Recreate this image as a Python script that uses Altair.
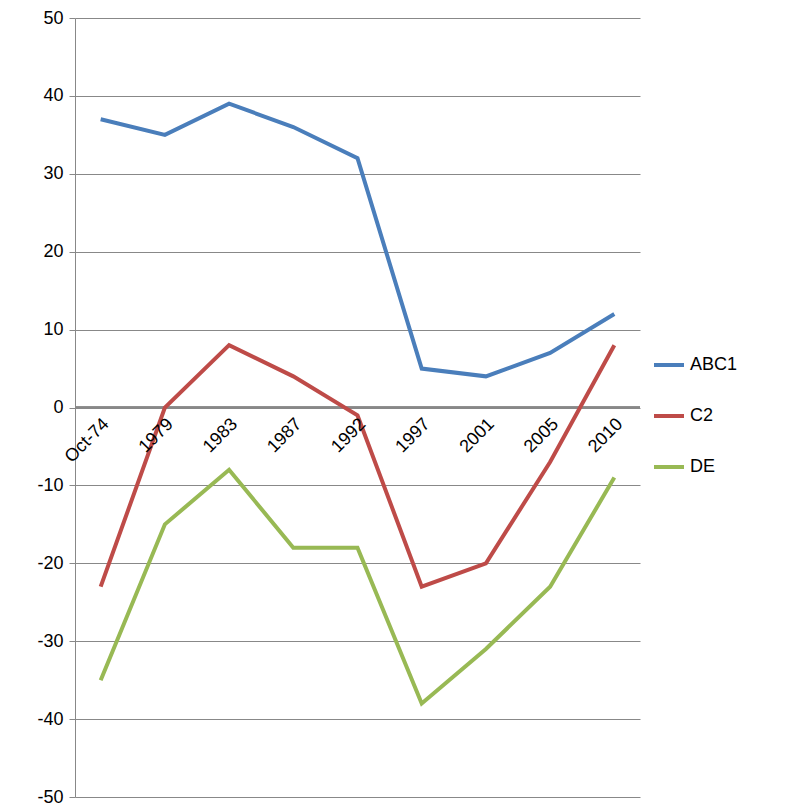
import altair as alt
import pandas as pd

years = ['Oct-74', '1979', '1983', '1987', '1992', '1997', '2001', '2005', '2010']
abc1 = [37, 35, 39, 36, 32, 5, 4, 7, 12]
c2 = [-23, 0, 8, 4, -1, -23, -20, -7, 8]
de = [-35, -15, -8, -18, -18, -38, -31, -23, -9]
series = ['ABC1', 'C2', 'DE']
colors = ['#4A7EBB', '#BE4B48', '#98B954']

rows = []
for name, vals in zip(series, [abc1, c2, de]):
    for y, v in zip(years, vals):
        rows.append({'year': y, 'value': v, 'series': name})
df = pd.DataFrame(rows)
labels = pd.DataFrame({'year': years, 'value': [0] * len(years)})

xenc = alt.X('year:O', sort=years, scale=alt.Scale(type='point', padding=0.4), axis=None)
yscale = alt.Scale(domain=[-50, 50])
yaxis = alt.Axis(values=list(range(-50, 51, 10)), labelFontSize=18, labelFont='Liberation Sans',
                 labelColor='black', grid=True, gridColor='#888888', domainColor='#888888',
                 tickColor='#888888', tickSize=6, labelPadding=6,
                 labelExpr="replace(datum.label, '\u2212', '-')")

lines = alt.Chart(df).mark_line(strokeWidth=4).encode(
    x=xenc,
    y=alt.Y('value:Q', scale=yscale, title=None, axis=yaxis),
    color=alt.Color('series:N', sort=series, scale=alt.Scale(domain=series, range=colors),
                    legend=alt.Legend(title=None, orient='none', legendX=577, legendY=330,
                                      symbolType='stroke', symbolStrokeWidth=4, symbolSize=900,
                                      labelFontSize=18, labelFont='Liberation Sans', rowPadding=25)),
)

zero = alt.Chart(labels).mark_rule(color='#888888', strokeWidth=1.5).encode(y=alt.datum(0))

text = alt.Chart(labels).mark_text(angle=315, align='right', baseline='middle', fontSize=18,
                                   font='Liberation Sans', dx=-6, dy=14).encode(
    x=xenc, y=alt.Y('value:Q', scale=yscale, axis=yaxis, title=None), text='year:N')

chart = alt.layer(zero, lines, text).properties(
    width=565, height=779, autosize=alt.AutoSizeParams(type='none'),
    padding={'left': 67, 'top': 10, 'right': 150, 'bottom': 10}
).configure_view(stroke=None)

chart.save("out.html", embed_options={"renderer": "svg", "actions": False})
